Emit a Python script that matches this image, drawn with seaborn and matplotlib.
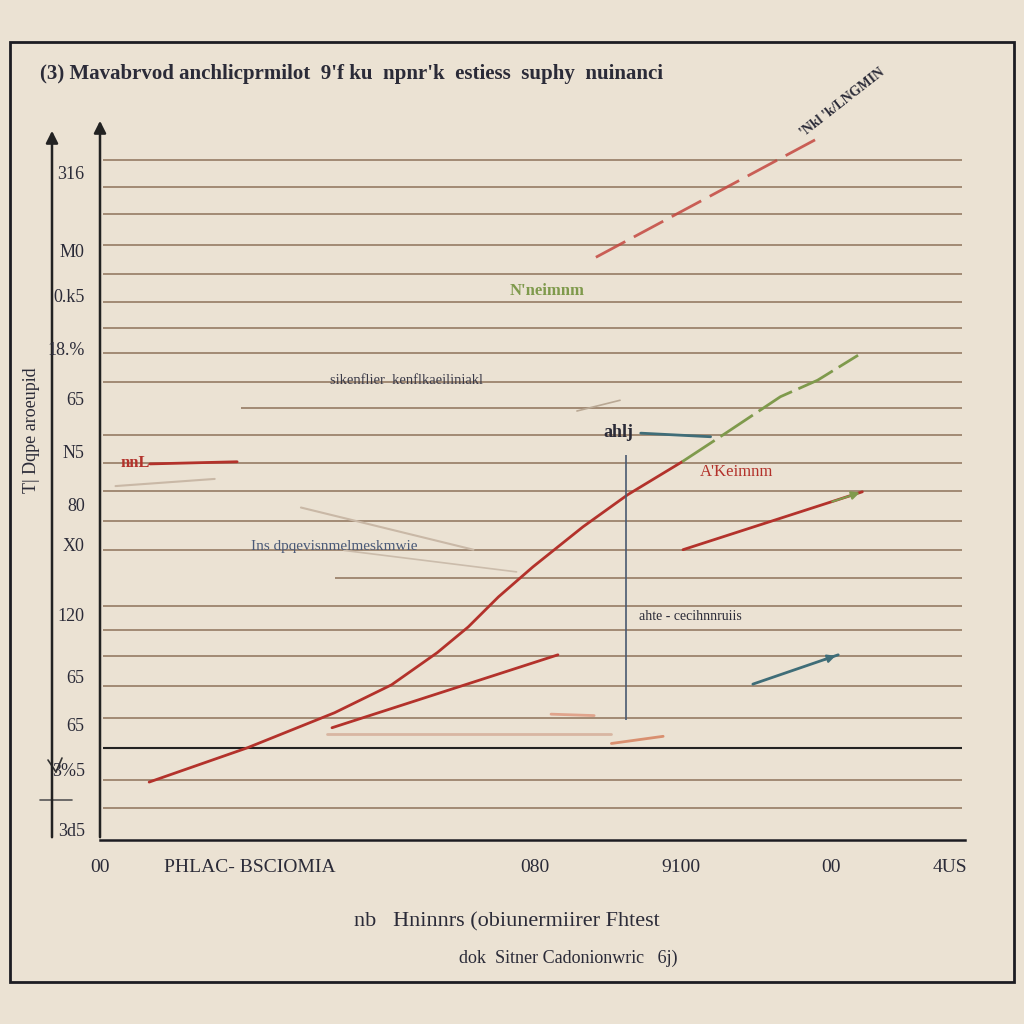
import matplotlib
matplotlib.use("Agg")
import matplotlib.pyplot as plt
import seaborn as sns
import pandas as pd

# ---- data (axis units 0-100) ----
grid_y = [95.1, 91.3, 87.6, 83.2, 79.2, 75.2, 71.6, 68.1, 64.1, 60.4, 56.6, 52.7,
          48.8, 44.6, 40.6, 36.6, 32.7, 29.4, 25.7, 21.5, 17.1, 8.4, 4.5]
grid_start = [0, 0, 0, 0, 0, 0, 0, 0, 0, 16, 0, 0,
              0, 0, 0, 27, 0, 0, 0, 0, 0, 0, 0]
ytick_pos = [93.3, 82.4, 76.2, 68.8, 61.8, 54.3, 46.9, 41.3, 31.5, 22.9, 16.2, 9.8, 1.4]
ytick_lab = ["316", "M0", "0.k5", "18.%", "65", "N5", "80", "X0", "120", "65", "65", "3%5", "3d5"]
xtick_pos = [-0.3, 17.1, 50.1, 67.1, 84.5, 98.3]
xtick_lab = ["00", "PHLAC- BSCIOMIA", "080", "9100", "00", "4US"]

main_x = [5.4, 16.8, 26.9, 33.5, 38.8, 42.4, 45.9, 49.9, 55.7, 60.9, 67.2]
main_y = [8.1, 12.9, 17.8, 21.7, 26.2, 29.8, 34.0, 38.2, 43.8, 48.3, 52.9]
green_x = [67.2, 72.5, 78.6, 82.9, 87.6]
green_y = [52.9, 57.1, 62.0, 64.3, 67.8]
upper_x = [57.2, 83.2]
upper_y = [81.5, 98.3]
low_x = [26.6, 52.8]
low_y = [15.7, 25.9]
right_x = [67.3, 88.1]
right_y = [40.6, 48.7]
teal_x = [75.4, 85.3]
teal_y = [21.8, 25.9]
short_x = [5.5, 15.6]
short_y = [52.6, 52.9]
teal2_x = [62.4, 70.5]
teal2_y = [56.9, 56.4]
vline_x = 60.7
vline_y = [16.8, 53.8]

title = "(3) Mavabrvod anchlicprmilot  9'f ku  npnr'k  estiess  suphy  nuinanci"
xlab1 = "nb   Hninnrs (obiunermiirer Fhtest"
xlab2 = "dok  Sitner Cadonionwric   6j)"
ylab = "T| Dqpe aroeupid"

BG = "#ebe2d3"
RED = "#b3322b"
GREEN = "#7f9a4c"
TEAL = "#3f6d78"
DARK = "#2b2b38"
GRID = "#9c836c"

sns.set_theme(style="white")
plt.rcParams["font.family"] = ["Liberation Serif", "DejaVu Serif"]

fig = plt.figure(figsize=(10.24, 10.24), dpi=100, facecolor=BG)

# decoration layer in pixel coords
deco = fig.add_axes([0, 0, 1, 1], facecolor="none")
deco.set_xlim(0, 1024)
deco.set_ylim(1024, 0)
deco.axis("off")
deco.add_patch(plt.Rectangle((10, 42), 1004, 940, fill=False, ec="#1c1c22", lw=2))
deco.annotate("", xy=(52, 128), xytext=(52, 840),
              arrowprops=dict(arrowstyle="-|>", color="#222", lw=1.8, mutation_scale=18))
deco.annotate("", xy=(100, 118), xytext=(100, 840),
              arrowprops=dict(arrowstyle="-|>", color="#222", lw=1.8, mutation_scale=18))
deco.plot([40, 72], [800, 800], color="#555", lw=1.2)
deco.plot([48, 56], [760, 772], color="#333", lw=1.2)
deco.plot([56, 62], [772, 758], color="#333", lw=1.2)

ax = fig.add_axes([100 / 1024, 184 / 1024, 865 / 1024, 715 / 1024], facecolor="none")
ax.set_xlim(0, 100)
ax.set_ylim(0, 100)

ax.hlines(grid_y, grid_start, 99.7, color=GRID, lw=1.3)
ax.hlines(12.9, 0, 99.7, color="#222", lw=1.5)

def draw(xs, ys, color, **kw):
    sns.lineplot(data=pd.DataFrame({"x": xs, "y": ys}), x="x", y="y", ax=ax,
                 color=color, sort=False, estimator=None, lw=kw.pop("lw", 2), **kw)

draw(main_x, main_y, RED)
draw(green_x, green_y, GREEN, lw=2, dashes=(14, 2.5))
draw(upper_x, upper_y, "#c4473f", lw=2, dashes=(12, 3.5), alpha=0.85)
draw(low_x, low_y, RED)
draw(right_x, right_y, RED)
draw(teal_x, teal_y, TEAL)
draw(short_x, short_y, RED)
draw(teal2_x, teal2_y, TEAL)
ax.vlines(vline_x, vline_y[0], vline_y[1], color="#4a5a70", lw=1.2)

ax.annotate("", xy=(right_x[1], right_y[1]), xytext=(right_x[0] + 17, right_y[0] + 6.6),
            arrowprops=dict(arrowstyle="-|>", color=GREEN, lw=1.5))
ax.annotate("", xy=(teal_x[1], teal_y[1]), xytext=(teal_x[0] + 8, teal_y[0] + 3.3),
            arrowprops=dict(arrowstyle="-|>", color=TEAL, lw=1.5))

# faint guide lines
ax.plot([1.5, 13], [49.5, 50.5], color="#c9b8a6", lw=1.5)
ax.plot([23, 43], [46.5, 40.6], color="#c9b8a6", lw=1.5)
ax.plot([28, 48], [40.5, 37.5], color="#cbbcab", lw=1.2)
ax.plot([55, 60], [60, 61.5], color="#b9a894", lw=1.2)
ax.plot([52, 57], [17.6, 17.4], color="#e0a48c", lw=2)
ax.plot([59, 65], [13.5, 14.5], color="#d98f6f", lw=2)
ax.plot([26, 59], [14.8, 14.8], color="#d8b6a2", lw=2)

# annotations
ax.text(51.5, 76.8, "N'neimnm", color=GREEN, fontsize=12, ha="center", va="center", weight="bold")
ax.text(35.2, 64.3, "sikenflier  kenflkaeiliniakl", color="#3a3a48", fontsize=10.5,
        ha="center", va="center")
ax.text(59.8, 57.0, "ahlj", color=DARK, fontsize=13, ha="center", va="center", weight="bold")
ax.text(73.5, 51.5, "A'Keimnm", color=RED, fontsize=12, ha="center", va="center")
ax.text(26.9, 41.1, "Ins dpqevisnmelmeskmwie", color="#4a5a78", fontsize=11, ha="center", va="center")
ax.text(68.2, 31.3, "ahte - cecihnnruiis", color=DARK, fontsize=10, ha="center", va="center")
ax.text(3.8, 52.7, "nnL", color=RED, fontsize=12, ha="center", va="center", weight="bold")
ax.text(85.8, 103.2, "'Nkl 'k/LNGMIN", color=DARK, fontsize=10, ha="center", va="center",
        rotation=38, clip_on=False, weight="bold")

ax.set_yticks(ytick_pos, ytick_lab)
ax.set_xticks(xtick_pos, xtick_lab)
ax.tick_params(axis="y", length=0, pad=11, labelsize=13, labelcolor=DARK)
ax.tick_params(axis="x", length=0, pad=14, labelsize=14, labelcolor=DARK)
ax.set_xlabel("")
ax.set_ylabel("")
for s in ["top", "right", "left"]:
    ax.spines[s].set_visible(False)
ax.spines["bottom"].set_color("#1c1c22")
ax.spines["bottom"].set_linewidth(1.8)

fig.text(40 / 1024, 1 - 74 / 1024, title, fontsize=15, color=DARK, ha="left", va="center",
         weight="bold")
fig.text(507 / 1024, 1 - 922 / 1024, xlab1, fontsize=16, color=DARK, ha="center", va="center")
fig.text(568 / 1024, 1 - 958 / 1024, xlab2, fontsize=13, color=DARK, ha="center", va="center")
fig.text(32 / 1024, 1 - 430 / 1024, ylab, fontsize=13, color=DARK, ha="center", va="center",
         rotation=90)

fig.savefig("out.png", dpi=100, facecolor=BG)
